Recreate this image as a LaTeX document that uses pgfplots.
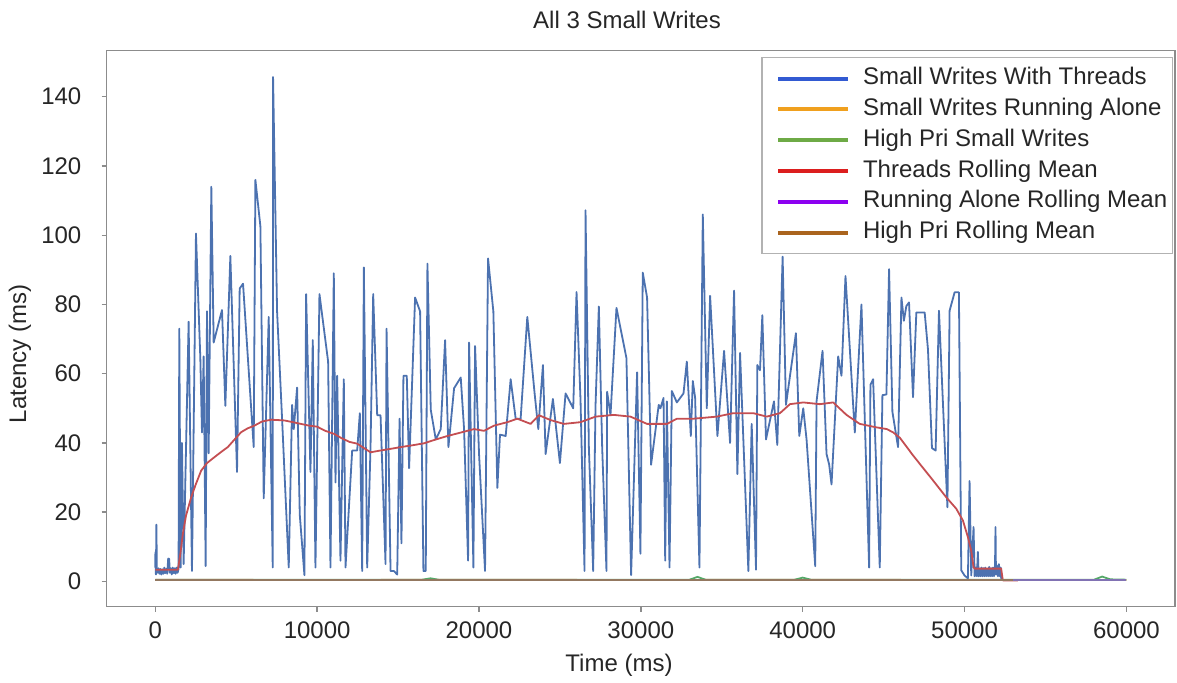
\documentclass[border=0pt]{standalone}
\usepackage{fontspec}
\setmainfont{Liberation Sans}
\usepackage{pgfplots}
\pgfplotsset{compat=1.18}
\definecolor{sblue}{HTML}{4C72B0}
\definecolor{sorange}{HTML}{DD8452}
\definecolor{sgreen}{HTML}{55A868}
\definecolor{sred}{HTML}{C44E52}
\definecolor{spurple}{HTML}{8172B3}
\definecolor{sbrown}{HTML}{937860}
\definecolor{lblue}{RGB}{50,90,210}
\definecolor{lorange}{RGB}{240,160,30}
\definecolor{lgreen}{RGB}{110,170,70}
\definecolor{lred}{RGB}{220,30,30}
\definecolor{lpurple}{RGB}{140,0,240}
\definecolor{lbrown}{RGB}{170,100,30}
\definecolor{txt}{RGB}{38,38,38}
\pgfkeys{/pgf/number format/assume math mode=true}
\begin{document}
\fontsize{12}{14}\selectfont
\begin{tikzpicture}[x=1pt,y=1pt]
\useasboundingbox (0,0) rectangle (588.5,341.5);
\begin{axis}[
  at={(53.35pt,38.15pt)}, anchor=south west,
  scale only axis, width=534.15pt, height=278pt,
  xmin=-3000, xmax=63000, ymin=-7.3, ymax=153.3,
  xtick={0,10000,20000,30000,40000,50000,60000},
  ytick={0,20,40,60,80,100,120,140},
  scaled x ticks=false,
  xticklabel style={/pgf/number format/1000 sep={}, yshift=-1pt},
  yticklabel style={xshift=-6pt},
  tick align=outside, major tick length=2.5pt,
  xtick pos=bottom, ytick pos=left,
  axis line style={black!45, line width=0.7pt},
  tick style={black!45, line width=0.7pt},
  ticklabel style={font=\fontsize{12}{14}\selectfont, text=txt},
  legend style={at={(0.998,0.9887)}, anchor=north east,
    draw=black!30, line width=0.6pt, fill=white,
    font=\fontsize{12}{14}\selectfont, text=txt,
    inner xsep=2.5pt, inner ysep=5pt,
    nodes={inner sep=0pt, text height=8.6pt, text depth=2.4pt},
    row sep=4.4pt, column sep=6.5pt},
  legend cell align=left,
  legend image code/.code={\draw[#1] (0pt,0pt) -- (35pt,0pt); \path (-4.5pt,0pt);},
]
\addlegendimage{color=lblue, line width=2pt}
\addlegendentry{Small Writes With Threads}
\addlegendimage{color=lorange, line width=2pt}
\addlegendentry{Small Writes Running Alone}
\addlegendimage{color=lgreen, line width=2pt}
\addlegendentry{High Pri Small Writes}
\addlegendimage{color=lred, line width=2pt}
\addlegendentry{Threads Rolling Mean}
\addlegendimage{color=lpurple, line width=2pt}
\addlegendentry{Running Alone Rolling Mean}
\addlegendimage{color=lbrown, line width=2pt}
\addlegendentry{High Pri Rolling Mean}

% Small Writes With Threads
\addplot[forget plot, color=sblue, line width=0.9pt, line join=round] coordinates {
(0,4) (10,8.5) (40,2) (70,16.4) (100,3) (150,2.5) (200,3.8) (260,2.2) (320,3.6) (380,2)
(440,3.5) (500,2.2) (560,4) (620,2.4) (680,3.6) (740,2.2) (800,6.6) (860,6.5) (900,2.5)
(960,3.8) (1020,2) (1080,4) (1140,2.4) (1200,3.8) (1260,2.2) (1320,4) (1380,2.5) (1440,3.6)
(1485,73) (1567,4) (1649,40) (1753,5) (2062,75) (2268,3) (2515,100.5) (2784,64.5) (2887,43)
(2990,65) (3113,4.4) (3196,78) (3299,37) (3464,114) (3608,69) (4124,78.4) (4330,50.7)
(4639,94) (5052,31.6) (5216,84.6) (5423,86) (6082,38.8) (6186,116) (6495,102.6) (6701,24)
(7010,76.4) (7258,4) (7278,145.7) (7526,78) (7835,47) (8247,4) (8454,51) (8557,44) (8763,56)
(8928,19.3) (9216,1.8) (9320,83) (9588,31.6) (9732,69.7) (9897,4) (10144,83) (10680,63.5)
(10825,4) (11031,89) (11134,28.6) (11237,59.4) (11443,6) (11649,58.4) (11753,4) (12165,37.8)
(12474,37.8) (12639,48.6) (12784,3) (12887,90.7) (13093,4) (13299,38.8) (13464,83) (13711,48)
(13918,48) (14227,5) (14289,73) (14536,3) (14742,3) (14948,2) (15093,47) (15210,11)
(15333,59.4) (15539,59.4) (15683,32.7) (16053,82) (16362,78) (16568,3) (16712,3) (16815,91.8)
(17021,49.6) (17330,41) (17638,44) (17906,69.7) (18112,38.8) (18462,55.8) (18873,58.9)
(19079,44) (19326,6) (19388,69) (19655,4) (19758,68) (20004,36.8) (20374,3) (20559,93.3)
(20888,78) (21135,27) (21299,42.4) (21649,42) (21957,58.4) (22266,47) (22574,47) (22985,76.4)
(23437,54.3) (23664,44) (23951,62.5) (24116,36.8) (24568,52.7) (25000,34.2) (25349,54.3)
(25822,50) (26027,83.6) (26274,52.2) (26521,3) (26582,107.2) (26788,38.8) (27055,3)
(27199,50.7) (27405,79.4) (27610,38.8) (27877,3) (27918,54.8) (28124,48) (28494,79)
(29110,64.5) (29398,1.8) (29768,60.4) (29974,8) (30118,89.2) (30385,82) (30632,33.7)
(31104,51) (31207,50) (31402,53) (31504,6) (31607,52) (31771,4) (31915,55) (32224,51.7)
(32635,54.3) (32840,63.5) (33087,42) (33210,57.9) (33354,53) (33621,4) (33827,106) (34073,50)
(34279,82.5) (34731,42) (35142,66.6) (35512,40) (35759,84) (35964,31) (36129,66) (36642,3)
(36848,45.5) (37115,3.4) (37197,62.5) (37361,61) (37505,76.9) (37731,41) (38224,52)
(38430,39.4) (38759,93.8) (38965,51) (39581,71.7) (39787,42) (40033,50) (40238,41)
(40773,4.4) (40855,52) (41225,66.6) (41472,36.8) (41636,33.7) (41780,28) (42191,65)
(42396,59.4) (42643,88.2) (43218,43) (43629,80) (44102,4) (44184,56.8) (44349,58.4) (44760,4)
(44924,53.8) (45171,54) (45335,90.2) (45541,49) (45890,38.8) (46100,82) (46250,75.3)
(46400,79.5) (46568,80.6) (46815,53.2) (47020,77.7) (47534,77.7) (47739,67) (47986,38.5)
(48212,37.8) (48418,78.2) (48940,21.4) (49075,78.2) (49384,83.5) (49651,83.5) (49795,3.2)
(50000,1.7) (50206,0.9) (50308,29) (50411,1.7) (50555,15.7) (50620,1.5) (50700,4) (50760,1.5)
(50822,8.5) (50870,1.5) (50925,3.5) (50980,1.5) (51040,4) (51100,1.5) (51160,3.8) (51220,1.5)
(51280,4) (51340,1.5) (51400,3.6) (51460,1.5) (51520,4.2) (51580,1.5) (51640,3.8) (51700,1.5)
(51760,4) (51820,1.5) (51880,4.5) (51911,15.7) (51940,2) (52000,4.5) (52060,1.5) (52120,5)
(52180,1.5) (52230,4) (52261,0.9) (52300,0.3)
};
% Small Writes Running Alone
\addplot[forget plot, color=sorange, line width=0.9pt] coordinates {
(0,0.5) (10000,0.4) (20000,0.5) (30000,0.4) (40000,0.5) (50000,0.4) (60000,0.4)
};
% High Pri Small Writes
\addplot[forget plot, color=sgreen, line width=0.9pt] coordinates {
(0,0.5) (16500,0.5) (17000,0.9) (17500,0.5) (33000,0.5) (33500,1.3) (34000,0.5)
(39500,0.5) (40000,1.1) (40500,0.5) (58000,0.5) (58500,1.4) (59000,0.6) (60000,0.5)
};
% Threads Rolling Mean
\addplot[forget plot, color=sred, line width=0.9pt, line join=round] coordinates {
(0,3.4) (1400,3.4) (1550,8) (1707,13.8) (1900,19) (2219,24.3) (2500,28) (2836,32)
(3200,34.2) (3658,35.9) (4100,37.5) (4480,38.8) (4900,41) (5302,43.1) (5700,44.2)
(6124,45) (6600,46.2) (7152,46.7) (7600,46.6) (7974,46.5) (8500,46) (9001,45.5)
(9500,45) (10000,44.7) (10500,43.5) (11054,42.6) (11500,41.4) (12000,40.3) (12474,39.8)
(12800,38.8) (13300,37.3) (13900,37.8) (14550,38.3) (15168,38.8) (15990,39.4) (16606,39.9)
(17330,41) (18050,42) (18873,43) (19696,44) (20312,43.5) (20929,45) (21751,46) (22368,47)
(23190,45.5) (23704,48) (24424,46.6) (25246,45.5) (26274,46) (27199,47.6) (28329,48.1)
(29357,47.6) (30385,45.5) (31619,45.5) (32224,47) (33251,47) (34690,47.6) (35717,48.6)
(36951,48.6) (37772,47.6) (38594,48.6) (39211,51.2) (40033,51.7) (41061,51.2) (41883,51.7)
(42705,48.1) (43526,45.5) (44554,44.5) (45200,44) (45600,43) (46000,41.5) (46400,39)
(46800,36.5) (47225,34) (48047,29.2) (48869,24.3) (49486,21) (49897,17.6) (50206,12.8)
(50411,8.9) (50555,4.1) (50617,3.7) (52261,3.7) (52363,0.3) (53289,0.3)
};
% Running Alone Rolling Mean
\addplot[forget plot, color=spurple, line width=0.9pt] coordinates {
(0,0.3) (20000,0.3) (40000,0.3) (60000,0.3)
};
% High Pri Rolling Mean
\addplot[forget plot, color=sbrown, line width=0.9pt] coordinates {
(0,0.3) (20000,0.3) (40000,0.3) (53000,0.3)
};
\end{axis}
\node[text=txt, font=\fontsize{12}{14}\selectfont] at (313.5,331.5) {All 3 Small Writes};
\node[text=txt, font=\fontsize{12}{14}\selectfont] at (309.5,9) {Time (ms)};
\node[text=txt, font=\fontsize{12}{14}\selectfont, rotate=90] at (10,164.5) {Latency (ms)};
\end{tikzpicture}
\end{document}
